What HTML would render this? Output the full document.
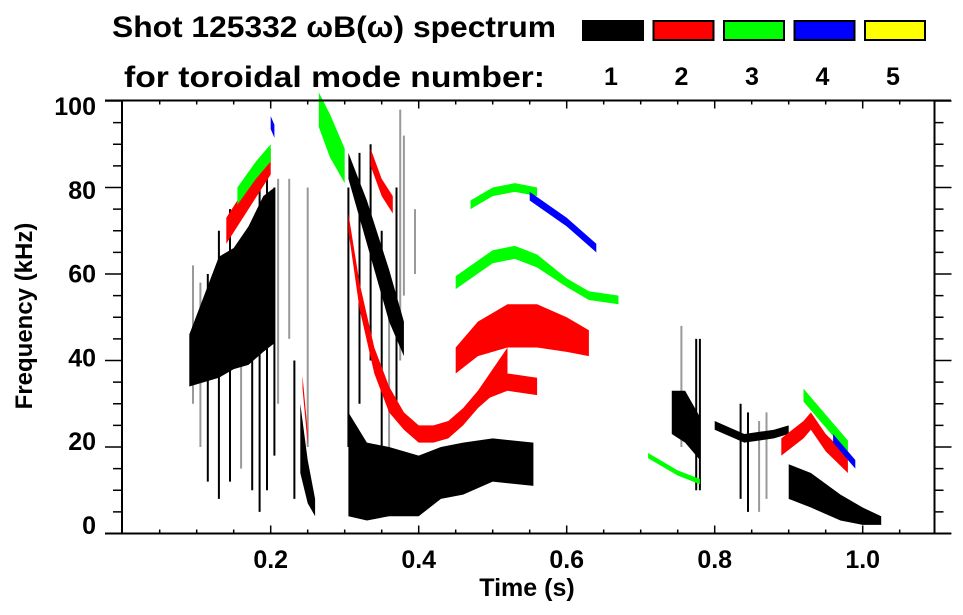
<!DOCTYPE html>
<html><head><meta charset="utf-8"><style>
html,body{margin:0;padding:0;background:#fff;}
svg{display:block;font-family:"Liberation Sans",sans-serif;font-weight:bold;}
</style></head><body>
<svg id="chart" width="963" height="615" viewBox="0 0 963 615">
<g id="marks"></g>
<g id="axes"></g>
<g>
<text x="112" y="37" font-size="30" textLength="444" lengthAdjust="spacingAndGlyphs">Shot 125332 ωB(ω) spectrum</text>
<text x="124" y="87" font-size="30" textLength="421" lengthAdjust="spacingAndGlyphs">for toroidal mode number:</text>
</g>
<g id="legend"></g>
<text x="32" y="316" font-size="24" text-anchor="middle" transform="rotate(-90 32 316)">Frequency (kHz)</text>
<text x="527" y="596" font-size="25" text-anchor="middle">Time (s)</text>
</svg>
<script>
const modeLabels = ["1","2","3","4","5"];
const modeColors = ["#000000","#ff0000","#00ff00","#0000ff","#ffff00"];
const xTicks = [0.2,0.4,0.6,0.8,1.0];
const xTickLabels = ["0.2","0.4","0.6","0.8","1.0"];
const yTicks = [0,20,40,60,80,100];
const yTickLabels = ["0","20","40","60","80","100"];
// bands: mode index, then times, centre frequency (kHz), half-width (kHz)
const bandModes = [0,0,0,0,0,0,0, 1,1,1,1,1,1,1, 2,2,2,2,2,2, 3,3,3];
const bandTimes = [
 [0.09,0.11,0.13,0.15,0.17,0.19,0.205],
 [0.305,0.33,0.36,0.40,0.43,0.46,0.50,0.555],
 [0.305,0.33,0.36,0.38],
 [0.24,0.25,0.26],
 [0.742,0.76,0.78],
 [0.90,0.93,0.97,1.0,1.025],
 [0.80,0.84,0.88,0.90],
 [0.305,0.32,0.34,0.36,0.38,0.40,0.42,0.44,0.46,0.48,0.50,0.52],
 [0.45,0.48,0.52,0.56,0.60,0.63],
 [0.49,0.52,0.56],
 [0.14,0.17,0.20],
 [0.335,0.35,0.365],
 [0.89,0.92,0.93,0.95,0.98],
 [0.243,0.25],
 [0.45,0.50,0.53,0.56,0.60,0.63,0.67],
 [0.47,0.50,0.53,0.56],
 [0.265,0.28,0.30],
 [0.155,0.18,0.20],
 [0.92,0.95,0.98],
 [0.71,0.75,0.78],
 [0.55,0.60,0.64],
 [0.96,0.98,0.99],
 [0.20,0.205]
];
const bandFreqs = [
 [40,45,50,52,55,60,62],
 [16,12,12,11,14,15,17,16],
 [85,72,55,45],
 [22,12,6],
 [28,27,22],
 [12,10,6,4,3],
 [25,22,23,24],
 [72,55,40,31,26,23,23,24,27,31,35,40],
 [40,45,48,48,46,44],
 [33,35,34],
 [70,78,86],
 [87,80,76],
 [20,24,26,21,16],
 [35,22],
 [58,64,65,63,58,55,54],
 [76,79,80,79],
 [98,92,85],
 [78,84,88],
 [32,26,20],
 [18,14,12],
 [78,72,66],
 [22,18,16],
 [95,93]
];
const bandWidths = [
 [6,10,14,14,16,18,18],
 [12,9,8,7,6,6,5,5],
 [3,5,6,4],
 [8,5,2],
 [5,6,5],
 [4,4,3,2,1],
 [1,1,1,1],
 [2,3,3,3,2,2,2,2,2,2,3,3],
 [3,4,5,5,4,3],
 [2,2,2],
 [3,3,3],
 [2,2,2],
 [2,2,2,2,2],
 [1.5,1.5],
 [1.5,1.5,1.5,1.5,1,1,1],
 [1,1,1,1],
 [4,5,4],
 [2,2,2],
 [1.5,1.5,1.5],
 [0.6,0.6,0.6],
 [1,1,1],
 [1,1,1],
 [1.5,1.5]
];
// vertical streaks (mode 1 / grey)
const streakT  = [0.095,0.105,0.115,0.13,0.145,0.16,0.175,0.185,0.195,0.205,0.21,0.225,0.232,0.305,0.32,0.335,0.35,0.36,0.37,0.375,0.38,0.25,0.395,0.755,0.775,0.78,0.835,0.845,0.86,0.87];
const streakLo = [30,20,12,8,12,15,10,5,10,18,30,45,8,20,30,40,20,15,30,40,55,20,60,20,10,10,8,5,5,8];
const streakHi = [62,58,60,70,75,68,72,80,82,80,82,82,40,80,88,90,70,55,80,98,92,80,75,48,45,45,30,28,26,28];
const streakGrey = [1,1,0,0,0,1,0,0,0,0,1,1,0,0,0,0,0,1,0,1,1,1,1,1,0,0,0,0,1,1];

const X0=122.7, XS=740, Y0=533.5, YS=4.325;
const xs = t => X0 + XS*t;
const ys = f => Y0 - YS*f;
const NS="http://www.w3.org/2000/svg";
const marks=document.getElementById('marks');
const axes=document.getElementById('axes');
const legend=document.getElementById('legend');
function mk(tag,attrs,parent){const e=document.createElementNS(NS,tag);for(const k in attrs)e.setAttribute(k,attrs[k]);parent.appendChild(e);return e;}

streakT.forEach((t,i)=>{
  const l=mk('line',{x1:xs(t),x2:xs(t),y1:ys(streakLo[i]),y2:ys(streakHi[i]),stroke:streakGrey[i]?'#999':'#000','stroke-width':2},marks);
  
  
});
bandTimes.forEach((ts,i)=>{
  const top=ts.map((t,j)=>xs(t)+','+ys(bandFreqs[i][j]+bandWidths[i][j]));
  const bot=ts.map((t,j)=>xs(t)+','+ys(bandFreqs[i][j]-bandWidths[i][j])).reverse();
  const p=mk('polygon',{points:top.concat(bot).join(' '),fill:modeColors[bandModes[i]]},marks);
  
  
});

// axes frame
mk('line',{x1:105,x2:951,y1:100.5,y2:100.5,stroke:'#000','stroke-width':2},axes);
mk('line',{x1:105,x2:951,y1:533.5,y2:533.5,stroke:'#000','stroke-width':2},axes);
mk('line',{x1:122,x2:122,y1:100,y2:534,stroke:'#000','stroke-width':2},axes);
mk('line',{x1:934.5,x2:934.5,y1:100,y2:534,stroke:'#000','stroke-width':2},axes);
for(let k=1;k<=21;k++){
  const t=k*0.05, x=xs(t), major=(k%4===0);
  const L=major?8:4;
  mk('line',{x1:x,x2:x,y1:533.5,y2:533.5-L,stroke:'#000','stroke-width':1.5},axes);
  mk('line',{x1:x,x2:x,y1:100.5,y2:100.5+L,stroke:'#000','stroke-width':1.5},axes);
}
for(let f=0;f<=100;f+=5){
  const y=ys(f), major=(f%20===0), L=major?17:9;
  mk('line',{x1:122-L,x2:122,y1:y,y2:y,stroke:'#000','stroke-width':1.5},axes);
  mk('line',{x1:934.5,x2:934.5+L,y1:y,y2:y,stroke:'#000','stroke-width':1.5},axes);
}
xTicks.forEach((t,i)=>{
  const e=mk('text',{x:xs(t),y:568,'font-size':25,'text-anchor':'middle'},axes);
  e.textContent=xTickLabels[i];
  
  
});
yTicks.forEach((f,i)=>{
  const e=mk('text',{x:96,y:534-4.19*f,'font-size':25,'text-anchor':'end'},axes);
  e.textContent=yTickLabels[i];
  
  
});
modeLabels.forEach((m,i)=>{
  const x=582+i*70.5;
  const r=mk('rect',{x:x+1,y:21,width:60,height:19,fill:modeColors[i],stroke:'#000','stroke-width':2},legend);
  
  
  const t=mk('text',{x:x+29,y:85,'font-size':25,'text-anchor':'middle'},legend);
  t.textContent=m;
  
  
});
</script>
</body></html>
